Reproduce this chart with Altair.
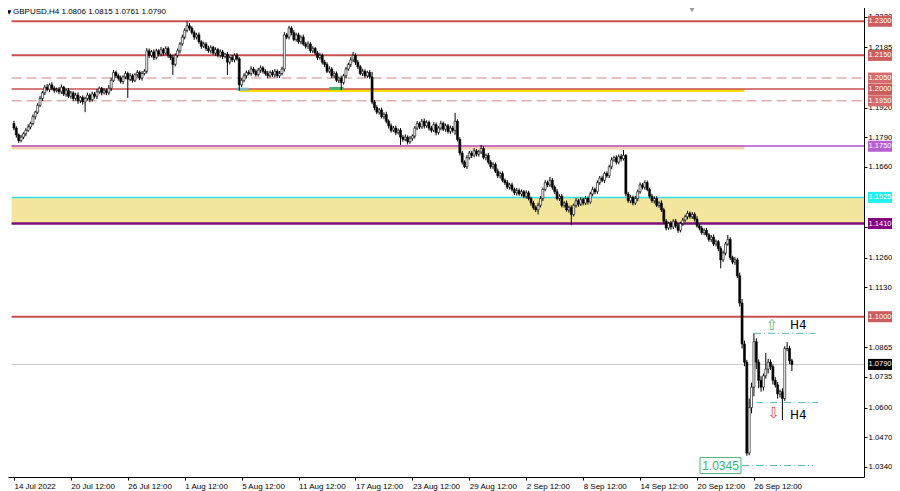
import altair as alt
import pandas as pd

# ---------------- data ----------------
first_open = 11850  # price in pips (x 1e-4)
closes = [
    11830, 11800, 11775, 11790, 11805, 11820, 11835, 11850, 11880, 11900, 11930, 11960,
    11985, 12010, 12000, 12020, 12005, 11995,
    12000, 11990, 12010, 11980, 11995, 11970, 11985, 11960, 11975, 11950, 11965, 11945,
    11960, 11975, 11955, 11980, 11970, 11990, 12005, 11985, 11995, 11985, 12005,
    12040, 12075, 12060,
    12050, 12035, 12055, 12070, 12045, 12060, 12040, 12065, 12075, 12050, 12070, 12080,
    12170,
    12150, 12165, 12140, 12170, 12155, 12175, 12160, 12180, 12150, 12140,
    12110,
    12150, 12170, 12200, 12230, 12260, 12280, 12270,
    12250, 12230, 12240, 12210, 12190, 12200, 12180, 12170,
    12185, 12160, 12175, 12150, 12165, 12145, 12155, 12120, 12140, 12130, 12150, 12135,
    12020, 12040,
    12060, 12075, 12070, 12090, 12080, 12065, 12085, 12095, 12080, 12070, 12060, 12075, 12065, 12080,
    12060, 12070, 12090,
    12240,
    12230, 12270, 12250, 12220, 12240, 12210, 12230, 12200,
    12190, 12200, 12170, 12180, 12160, 12140, 12150, 12120, 12110,
    12080, 12090, 12060, 12070, 12040, 12050,
    12030,
    12060, 12090, 12110, 12130, 12150,
    12120, 12100, 12070, 12080, 12060, 12075, 12055,
    11945,
    11920, 11900, 11910, 11880, 11890, 11860,
    11840, 11820, 11830, 11810, 11820,
    11790,
    11780, 11790, 11770, 11785, 11795,
    11830, 11850, 11835, 11860, 11840, 11855, 11830,
    11820, 11845, 11810, 11830, 11850, 11825, 11840, 11815, 11830, 11820,
    11860,
    11780, 11720, 11680,
    11660, 11700, 11720, 11710, 11730, 11715, 11725,
    11740,
    11700, 11710, 11680, 11660, 11670, 11640, 11620, 11630, 11600, 11590, 11570, 11580,
    11560, 11545, 11555, 11540, 11550, 11530, 11545, 11520,
    11500, 11480, 11470, 11490,
    11520, 11560, 11590, 11580, 11600,
    11570, 11550, 11520, 11530, 11490, 11500, 11470, 11480,
    11450,
    11490, 11510, 11495, 11515, 11500, 11520, 11505,
    11540, 11560, 11550, 11590, 11610, 11600, 11630, 11620,
    11660, 11690, 11700, 11680, 11705, 11695, 11710,
    11540,
    11510, 11525, 11500, 11520,
    11550, 11580, 11570, 11590, 11560,
    11530, 11510, 11520, 11490, 11500, 11470,
    11420, 11390,
    11410, 11395, 11420, 11400, 11380, 11410, 11425, 11440,
    11455, 11440, 11450, 11430,
    11400, 11390, 11370, 11380, 11360,
    11340, 11350, 11320, 11330, 11300,
    11250,
    11280, 11320, 11340,
    11260, 11240, 11250,
    11180, 11060,
    10880,
    10800,
    10400,
    10600, 10690, 10890,
    10800, 10720, 10690, 10740,
    10770, 10800, 10780,
    10720, 10700, 10660, 10670, 10640,
    10860, 10860, 10806, 10790,
]
upper_wick = [
    12, 8, 6, 10, 7, 9, 12, 8, 10, 6,
    9, 12, 8, 10, 14, 7, 12, 9, 8, 10,
    12, 6, 9, 11, 8, 7, 10, 12, 6, 9,
    8, 11, 7, 10, 9, 12, 8, 6, 10, 9,
    14, 12, 10, 8, 9, 11, 7, 10, 8, 12,
    9, 6, 10, 8, 11, 9, 12, 10, 8, 11,
    9, 7, 12, 8, 10, 9, 8, 12, 9, 10,
    8, 11, 9, 20, 12, 8, 10, 9, 11, 7,
    10, 8, 12, 9, 7, 10, 8, 11, 9, 6,
    10, 8, 12, 9, 10, 7, 9, 11, 8, 10,
    12, 9, 8, 10, 11, 7, 9, 12, 8, 10,
    9, 8, 11, 10, 12, 9, 10, 8, 12, 9,
    10, 8, 11, 9, 12, 8, 10, 7, 9, 11,
    8, 10, 9, 12, 8, 10, 9, 7, 11, 9,
    10, 8, 12, 15, 9, 10, 8, 11, 9, 7,
    10, 22, 9, 11, 8, 10, 9, 12, 8, 10,
    9, 11, 8, 10, 9, 12, 8, 10, 7, 9,
    11, 8, 10, 12, 9, 8, 10, 11, 9, 8,
    12, 9, 10, 8, 11, 9, 37, 8, 10, 9,
    8, 11, 9, 10, 12, 8, 9, 16, 10, 8,
    11, 9, 10, 8, 12, 9, 10, 8, 11, 9,
    10, 8, 12, 9, 10, 8, 11, 9, 8, 10,
    9, 12, 10, 8, 11, 9, 15, 10, 8, 12,
    9, 10, 8, 11, 9, 10, 8, 12, 9, 10,
    8, 11, 9, 10, 12, 8, 10, 9, 11, 8,
    10, 9, 12, 8, 10, 9, 11, 23, 5, 9,
    10, 8, 12, 9, 11, 8, 10, 9, 8, 11,
    9, 10, 8, 12, 9, 10, 8, 11, 9, 10,
    12, 8, 10, 9, 11, 8, 10, 9, 12, 8,
    10, 9, 11, 8, 10, 12, 9, 8, 10, 11,
    9, 20, 10, 8, 12, 9, 14, 18, 15, 10,
    40, 20, 37, 15, 12, 18, 10, 70, 15, 12,
    10, 14, 12, 9, 15, 10, 28, 12, 9,
]
lower_wick = [
    10, 12, 10, 8, 9, 11, 7, 10, 8, 12,
    9, 8, 11, 10, 8, 12, 9, 10, 8, 11,
    10, 9, 12, 8, 10, 11, 9, 13, 10, 12,
    45, 9, 11, 8, 10, 12, 9, 11, 8, 10,
    9, 12, 8, 10, 11, 9, 12, 10, 82, 9,
    10, 8, 12, 9, 11, 8, 10, 12, 9, 11,
    8, 10, 9, 12, 8, 11, 10, 46, 9, 10,
    12, 8, 10, 9, 11, 8, 12, 10, 9, 11,
    8, 10, 9, 12, 8, 11, 9, 10, 12, 8,
    56, 10, 9, 11, 8, 25, 10, 9, 12, 8,
    10, 11, 9, 8, 12, 10, 9, 11, 8, 10,
    12, 9, 10, 8, 11, 9, 10, 12, 8, 10,
    9, 11, 8, 10, 12, 9, 10, 8, 11, 9,
    10, 12, 8, 9, 11, 10, 8, 12, 33, 9,
    10, 8, 11, 9, 12, 10, 8, 11, 9, 10,
    8, 10, 12, 9, 10, 8, 11, 9, 12, 10,
    8, 11, 9, 34, 10, 8, 12, 9, 10, 11,
    9, 10, 8, 12, 9, 11, 10, 8, 12, 9,
    10, 8, 11, 9, 12, 10, 20, 9, 11, 10,
    6, 10, 9, 12, 8, 10, 11, 9, 8, 12,
    10, 9, 11, 8, 10, 12, 9, 10, 8, 11,
    9, 10, 12, 8, 11, 9, 10, 8, 12, 9,
    10, 20, 9, 11, 8, 10, 9, 12, 10, 8,
    11, 9, 10, 8, 12, 47, 9, 10, 11, 8,
    10, 9, 12, 8, 10, 11, 9, 10, 8, 12,
    9, 10, 11, 8, 10, 9, 12, 8, 10, 9,
    11, 10, 8, 12, 9, 10, 11, 8, 10, 9,
    12, 8, 10, 9, 11, 10, 8, 12, 9, 10,
    11, 9, 10, 8, 12, 9, 10, 11, 8, 10,
    9, 12, 8, 10, 11, 9, 10, 12, 37, 9,
    10, 8, 11, 9, 12, 10, 15, 20, 18, 12,
    10, 25, 40, 30, 35, 20, 15, 12, 20, 15,
    18, 12, 20, 15, 95, 10, 12, 15, 29,
]
assert len(closes) == len(upper_wick) == len(lower_wick), (len(closes), len(upper_wick), len(lower_wick))

tick_bars = [0, 24, 48, 72, 96, 120, 144, 168, 192, 216, 240, 264, 288, 312]
tick_labels = ["14 Jul 2022", "20 Jul 12:00", "26 Jul 12:00", "1 Aug 12:00", "5 Aug 12:00",
               "11 Aug 12:00", "17 Aug 12:00", "23 Aug 12:00", "29 Aug 12:00", "2 Sep 12:00",
               "8 Sep 12:00", "14 Sep 12:00", "20 Sep 12:00", "26 Sep 12:00"]
axis_prices = [1.2320, 1.2185, 1.1920, 1.1790, 1.1660, 1.1395,
               1.1260, 1.1130, 1.0865, 1.0735, 1.0600, 1.0470, 1.0340]

# level lines: price, colour, width, start bar, end bar
solid_prices = [1.2300, 1.2150, 1.2002, 1.1751, 1.1525, 1.1410, 1.1000, 1.0790]
solid_colors = ["#c8504e", "#c8504e", "#c8504e", "#b450d2", "#2fe3e3", "#7d0f7d", "#c8504e", "#c8c8c8"]
solid_widths = [2, 2, 1.6, 1.4, 1.5, 2.5, 2, 1]
dashed_prices = [1.2050, 1.1950]
band_prices = [1.19952, 1.17455]
band_colors = ["#ffdc00", "#f9d3ad"]
band_widths = [3, 4.5]
band_start = [95, -1]
band_end = [308, 308]
mark_prices = [1.2001, 1.2004]
mark_colors = ["#7eb6c6", "#45b36c"]
mark_start = [94, 133]
mark_end = [99, 139]
zone_top, zone_bottom = 1.1525, 1.1410
dd_prices = [1.0927, 1.0622, 1.0345]
dd_start = [312, 313, 307]
dd_end = [338, 339, 337]

box_prices = [1.2300, 1.2150, 1.2050, 1.2000, 1.1950, 1.1750, 1.1525, 1.1410, 1.1000, 1.0790]
box_texts = ["1.2300", "1.2150", "1.2050", "1.2000", "1.1950", "1.1750", "1.1525", "1.1410", "1.1000", "1.0790"]
box_colors = ["#cd5c5c", "#cd5c5c", "#d56a6a", "#cd5c5c", "#d56a6a", "#b65fd5", "#20f0f0", "#800080", "#cd5c5c", "#000000"]

title_text = "GBPUSD,H4  1.0806 1.0815 1.0761 1.0790"

# ---------------- build tables ----------------
opens = [first_open] + closes[:-1]
rows = []
for i, (o, c, u, l) in enumerate(zip(opens, closes, upper_wick, lower_wick)):
    rows.append(dict(bar=i, open=o / 1e4, close=c / 1e4,
                     high=(max(o, c) + u) / 1e4, low=(min(o, c) - l) / 1e4,
                     fill="#ffffff" if c >= o else "#000000"))
candles = pd.DataFrame(rows)

full_start, full_end = -1, 360
solid_df = pd.DataFrame(dict(price=solid_prices, color=solid_colors, w=solid_widths,
                             x0=full_start, x1=full_end))
dashed_df = pd.DataFrame(dict(price=dashed_prices, x0=full_start, x1=full_end))
band_df = pd.DataFrame(dict(price=band_prices, color=band_colors, w=band_widths,
                            x0=band_start, x1=band_end))
mark_df = pd.DataFrame(dict(price=mark_prices, color=mark_colors, x0=mark_start, x1=mark_end))
zone_df = pd.DataFrame(dict(top=[zone_top], bottom=[zone_bottom], x0=[full_start], x1=[full_end]))
dd_df = pd.DataFrame(dict(price=dd_prices, x0=dd_start, x1=dd_end))
box_df = pd.DataFrame(dict(price=box_prices, text=box_texts, color=box_colors))

xs = alt.Scale(domain=[-0.4, 356.3], nice=False, zero=False)
ys = alt.Scale(domain=[1.02947, 1.23935], nice=False, zero=False)

label_expr = str(tick_labels) + "[round(datum.value / 24)]"
x_axis = alt.Axis(values=tick_bars, labelExpr=label_expr, title=None, grid=False,
                  labelAlign="left", labelFont="Liberation Sans", labelFontSize=8,
                  labelColor="#000", tickColor="#000", domainColor="#000", tickSize=3,
                  labelPadding=2, labelOverlap=False, labelFlush=False)
y_axis = alt.Axis(orient="right", values=axis_prices, format=".4f", title=None, grid=False,
                  labelFont="Liberation Sans", labelFontSize=7.8, labelColor="#000",
                  tickColor="#000", domainColor="#000", tickSize=3, labelPadding=1,
                  labelOverlap=False)

X = lambda f: alt.X(f, type="quantitative", scale=xs, axis=x_axis)
Y = lambda f: alt.Y(f, type="quantitative", scale=ys, axis=y_axis)

zone = alt.Chart(zone_df).mark_rect(color="#f3e59c", clip=True).encode(
    x=X("x0"), x2="x1", y=Y("top"), y2="bottom")

bands = alt.Chart(band_df).mark_rule(clip=True).encode(
    x=X("x0"), x2="x1", y=Y("price"),
    color=alt.Color("color:N", scale=None), strokeWidth=alt.StrokeWidth("w:Q", scale=None))

solid = alt.Chart(solid_df).mark_rule(clip=True).encode(
    x=X("x0"), x2="x1", y=Y("price"),
    color=alt.Color("color:N", scale=None), strokeWidth=alt.StrokeWidth("w:Q", scale=None))

dashed = alt.Chart(dashed_df).mark_rule(clip=True, color="#deb0b0", strokeWidth=1.5,
                                        strokeDash=[10, 5]).encode(
    x=X("x0"), x2="x1", y=Y("price"))

marks = alt.Chart(mark_df).mark_rule(clip=True, strokeWidth=3).encode(
    x=X("x0"), x2="x1", y=Y("price"), color=alt.Color("color:N", scale=None))

wicks = alt.Chart(candles).mark_rule(clip=True, color="#000", strokeWidth=1).encode(
    x=X("bar"), y=Y("low"), y2="high")

bodies = alt.Chart(candles).mark_bar(clip=True, size=2, stroke="#000", strokeWidth=0.6).encode(
    x=X("bar"), y=Y("open"), y2="close", fill=alt.Fill("fill:N", scale=None))

dashdot = alt.Chart(dd_df).mark_rule(clip=True, color="#4dbdb8", strokeWidth=1,
                                     strokeDash=[7, 3, 1, 3]).encode(
    x=X("x0"), x2="x1", y=Y("price"))

ann_df = pd.DataFrame(dict(
    bar=[319.6, 330.7, 320.4, 330.7],
    price=[1.09635, 1.09635, 1.05763, 1.05675],
    text=["\u21e7", "H4", "\u21e9", "H4"],
    color=["#5cbf84", "#000000", "#e8504f", "#000000"],
    size=[15, 12, 15, 12],
))
ann = alt.Chart(ann_df).mark_text(font="DejaVu Sans", clip=False).encode(
    x=X("bar"), y=Y("price"), text="text:N", color=alt.Color("color:N", scale=None),
    size=alt.Size("size:Q", scale=None))

low_df = pd.DataFrame(dict(bar=[297.9], price=[1.0345], text=["1.0345"]))
low_box = alt.Chart(low_df).mark_point(shape="M-1,-0.39H1V0.39H-1Z", size=1681, filled=True,
                                       fill="#ffffff", stroke="#4db37a", strokeWidth=1,
                                       opacity=1).encode(x=X("bar"), y=Y("price"))
low_text = alt.Chart(low_df).mark_text(font="Liberation Sans", fontSize=12, color="#3cb371").encode(
    x=X("bar"), y=Y("price"), text="text:N")

boxes = alt.Chart(box_df).mark_point(shape="M-1,-0.46H1V0.46H-1Z", size=576, filled=True,
                                     opacity=1, clip=False).encode(
    x=alt.value(872), y=Y("price"), color=alt.Color("color:N", scale=None))
box_text = alt.Chart(box_df).mark_text(font="Liberation Sans", fontSize=7.5, color="#ffffff",
                                       clip=False).encode(
    x=alt.value(872), y=Y("price"), text="text:N")

title_df = pd.DataFrame(dict(t=[title_text], tri=["\u25bc"]))
title = alt.Chart(title_df).mark_text(font="Liberation Sans", fontSize=8, align="left",
                                      color="#000").encode(
    x=alt.value(5), y=alt.value(12), text="t:N")
tri = alt.Chart(title_df).mark_text(font="DejaVu Sans", fontSize=6, color="#000").encode(
    x=alt.value(1), y=alt.value(12), text="tri:N")
shift = alt.Chart(title_df).mark_point(shape="triangle-down", filled=True, size=30,
                                       color="#9a9a9a", opacity=1).encode(
    x=alt.value(684), y=alt.value(10))

chart = alt.layer(
    zone, bands, solid, dashed, marks, wicks, bodies, dashdot, ann,
    low_box, low_text, boxes, box_text, title, tri, shift
).properties(
    width=856, height=477,
    autosize=alt.AutoSizeParams(type="none"),
    padding={"left": 0, "top": -8, "right": 28, "bottom": 14},
    background="#ffffff",
).configure_view(stroke=None)

chart.save("out.html", embed_options={"renderer": "svg", "actions": False})
